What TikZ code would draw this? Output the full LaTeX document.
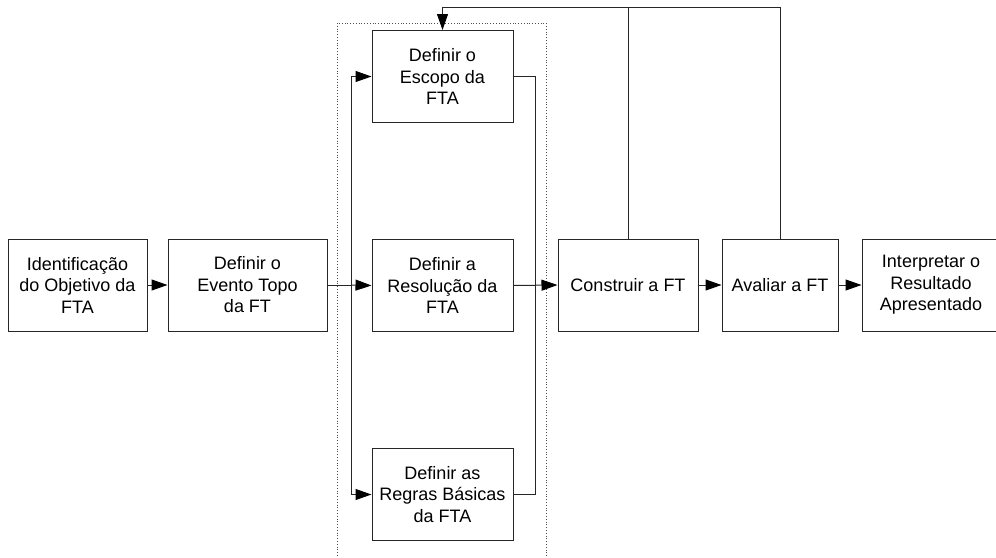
\documentclass[tikz,border=0pt]{standalone}
\usepackage{fontspec}
\setmainfont{Liberation Sans}
\usetikzlibrary{arrows.meta}
\begin{document}
\begin{tikzpicture}[x=1pt,y=-1pt,
  blk/.style={draw=black!85, line width=1pt, fill=white, align=center,
    font=\fontsize{18}{21.5}\selectfont, inner sep=0pt, minimum height=92pt},
  link/.style={draw=black!85, line width=1pt},
  arr/.style={link, -{Triangle[length=16pt,width=11pt,color=black]}},
  group/.style={draw=black!70, line width=0.8pt, dotted}]
\useasboundingbox (0,0) rectangle (996,557);
% dotted frame around the three scope steps
\draw[group] (337,23) rectangle (546,570);
% process steps
\node[blk, minimum width=139pt] (obj) at (77.5,285) {Identificação\\do Objetivo da\\FTA};
\node[blk, minimum width=159pt] (top) at (247.5,285) {Definir o\\Evento Topo\\da FT};
\node[blk, minimum width=141pt] (esc) at (442.5,76.5) {Definir o\\Escopo da\\FTA};
\node[blk, minimum width=141pt] (res) at (442.5,285.5) {Definir a\\Resolução da\\FTA};
\node[blk, minimum width=141pt] (reg) at (442.5,494.5) {Definir as\\Regras Básicas\\da FTA};
\node[blk, minimum width=140pt] (con) at (628,285) {Construir a FT};
\node[blk, minimum width=116pt] (ava) at (780,285) {Avaliar a FT};
\node[blk, minimum width=138pt] (int) at (931,285) {Interpretar o\\Resultado\\Apresentado};
% branch and merge points of the scope steps
\coordinate (split) at (351,285);
\coordinate (join) at (535,285);
\coordinate (back) at (442.5,7);
% connectors
\draw[arr] (obj) -- (top);
\draw[link] (top) -- (split);
\draw[arr] (split) |- (esc.west);
\draw[arr] (split) -- (res.west);
\draw[arr] (split) |- (reg.west);
\draw[link] (esc.east) -| (join);
\draw[link] (reg.east) -| (join);
\draw[arr] (res.east) -- (con.west);
\draw[arr] (con) -- (ava);
\draw[arr] (ava) -- (int);
% feedback to the scope definition
\draw[link] (con.north) -- (con.north |- back);
\draw[arr] (ava.north) |- (back) -- (esc.north);
\end{tikzpicture}
\end{document}
